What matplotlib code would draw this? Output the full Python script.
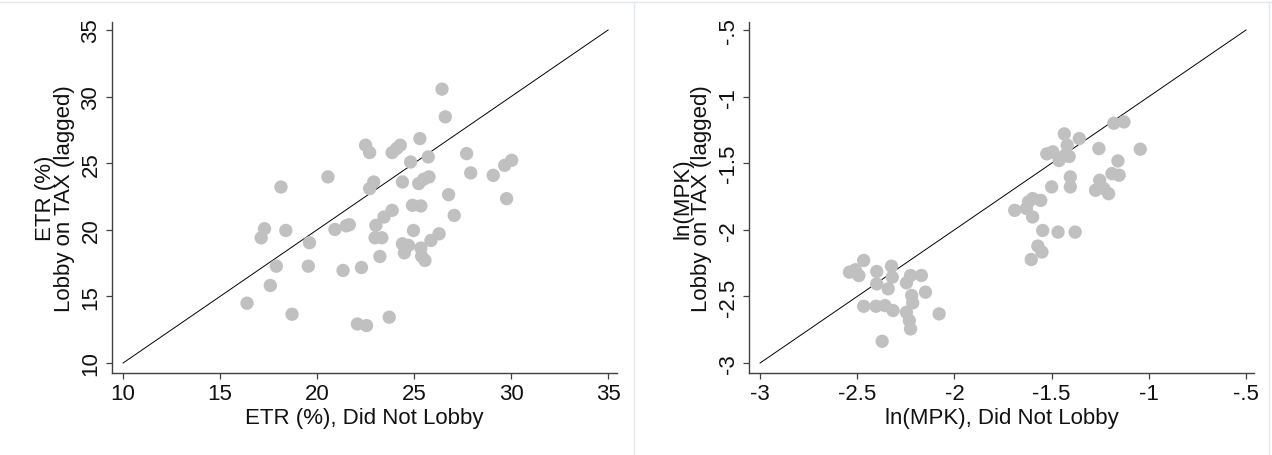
import matplotlib
matplotlib.use("Agg")
import matplotlib.pyplot as plt
from matplotlib.lines import Line2D
from matplotlib.ticker import FuncFormatter

plt.rcParams['font.family'] = ['Liberation Sans', 'DejaVu Sans']
plt.rcParams['axes.unicode_minus'] = False

# panel 1: ETR (%)
etr_no_lobby = [26.44, 26.61, 25.30, 22.50, 22.71, 24.29, 23.87, 25.73, 24.82, 27.71,
                27.92, 29.08, 29.67, 30.03, 29.77, 26.78, 27.07, 24.40, 22.92, 22.71,
                25.24, 25.77, 25.50, 20.56, 18.14, 24.92, 25.35, 23.87, 23.45, 23.03,
                24.97, 26.29, 25.87, 21.66, 20.92, 17.29, 17.12, 18.39, 19.61, 22.99,
                23.34, 24.40, 24.71, 24.50, 25.35, 25.39, 25.56, 23.24, 17.90, 19.55,
                21.34, 22.29, 17.59, 16.39, 18.71, 22.08, 22.55, 23.72, 24.10, 21.50]
etr_lobby = [30.56, 28.48, 26.85, 26.35, 25.80, 26.35, 25.80, 25.47, 25.09, 25.72,
             24.27, 24.09, 24.84, 25.22, 22.34, 22.64, 21.08, 23.59, 23.59, 23.09,
             23.47, 23.97, 23.80, 23.97, 23.21, 21.84, 21.79, 21.46, 20.96, 20.33,
             19.95, 19.70, 19.20, 20.38, 20.03, 20.08, 19.40, 19.95, 19.03, 19.40,
             19.40, 18.95, 18.83, 18.27, 18.63, 18.02, 17.70, 18.00, 17.27, 17.27,
             16.95, 17.17, 15.82, 14.49, 13.66, 12.93, 12.81, 13.44, 26.10, 20.30]

# panel 2: ln(MPK)
mpk_no_lobby = [-1.180, -1.128, -1.435, -1.358, -1.420, -1.257, -1.044, -1.525, -1.494, -1.462,
                -1.430, -1.159, -1.404, -1.190, -1.153, -1.253, -1.274, -1.232, -1.207, -1.500,
                -1.404, -1.690, -1.619, -1.598, -1.556, -1.630, -1.598, -1.546, -1.467, -1.379,
                -1.571, -1.550, -1.605, -2.467, -2.540, -2.492, -2.400, -2.324, -2.320, -2.226,
                -2.170, -2.400, -2.341, -2.247, -2.149, -2.220, -2.215, -2.467, -2.404, -2.358,
                -2.316, -2.247, -2.232, -2.079, -2.226, -2.372, -1.410, -2.510]
mpk_lobby = [-1.200, -1.190, -1.280, -1.315, -1.365, -1.390, -1.395, -1.430, -1.415, -1.480,
             -1.440, -1.483, -1.603, -1.578, -1.590, -1.628, -1.703, -1.690, -1.729, -1.678,
             -1.678, -1.854, -1.790, -1.766, -1.779, -1.840, -1.904, -2.005, -2.017, -2.017,
             -2.122, -2.167, -2.223, -2.230, -2.318, -2.343, -2.313, -2.273, -2.356, -2.343,
             -2.343, -2.406, -2.443, -2.398, -2.468, -2.493, -2.549, -2.574, -2.574, -2.569,
             -2.606, -2.619, -2.682, -2.631, -2.744, -2.837, -1.450, -2.300]

etr_ticks = [10, 15, 20, 25, 30, 35]
mpk_ticks = [-3, -2.5, -2, -1.5, -1, -0.5]

dot_color = '#c0c0c0'
spine_color = '#404040'
text_color = '#111111'
fsize = 16


def stata_num(v, pos=None):
    s = ('%g' % v)
    s = s.replace('-0.', '-.')
    if s.startswith('0.'):
        s = s[1:]
    return s


def draw_panel(ax, xs, ys, ticks, lims, xlabel, ylabel):
    ax.plot([ticks[0], ticks[-1]], [ticks[0], ticks[-1]], color='black', lw=0.7, zorder=1)
    ax.scatter(xs, ys, s=92, color=dot_color, edgecolors='none', zorder=2)
    ax.set_xlim(lims[0])
    ax.set_ylim(lims[1])
    ax.set_xticks(ticks)
    ax.set_yticks(ticks)
    ax.xaxis.set_major_formatter(FuncFormatter(stata_num))
    ax.yaxis.set_major_formatter(FuncFormatter(stata_num))
    for side in ['top', 'right']:
        ax.spines[side].set_visible(False)
    for side in ['left', 'bottom']:
        ax.spines[side].set_color(spine_color)
        ax.spines[side].set_linewidth(1.0)
    ax.tick_params(axis='both', direction='out', length=4, width=0.9,
                   color=spine_color, labelsize=fsize, labelcolor=text_color, pad=3.5)
    for lab in ax.get_yticklabels():
        lab.set_rotation(90)
        lab.set_va('center')
    ax.set_xlabel(xlabel, fontsize=fsize, color=text_color, labelpad=2)
    ax.set_ylabel(ylabel, fontsize=fsize, color=text_color, labelpad=4, linespacing=0.85)


fig = plt.figure(figsize=(12.72, 4.56), dpi=100)

ax1 = fig.add_axes([112 / 1272, 1 - 374 / 456, 505 / 1272, 351 / 456])
ax2 = fig.add_axes([749 / 1272, 1 - 374 / 456, 505 / 1272, 351 / 456])

draw_panel(ax1, etr_no_lobby, etr_lobby, etr_ticks,
           ((9.43, 35.46), (9.25, 35.6)),
           'ETR (%), Did Not Lobby', 'ETR (%)\nLobby on TAX (lagged)')
draw_panel(ax2, mpk_no_lobby, mpk_lobby, mpk_ticks,
           ((-3.057, -0.459), (-3.075, -0.44)),
           'ln(MPK), Did Not Lobby', 'ln(MPK)\nLobby on TAX (lagged)')

# faint graph region borders
frame_color = '#e4e9ee'
fig.add_artist(Line2D([0, 1], [1 - 3 / 456, 1 - 3 / 456], color=frame_color, lw=1.0))
fig.add_artist(Line2D([634 / 1272, 634 / 1272], [0, 1 - 3 / 456], color=frame_color, lw=1.0))
fig.add_artist(Line2D([1269 / 1272, 1269 / 1272], [0, 1 - 3 / 456], color=frame_color, lw=1.0))

fig.savefig('out.png', dpi=100, facecolor='white')
